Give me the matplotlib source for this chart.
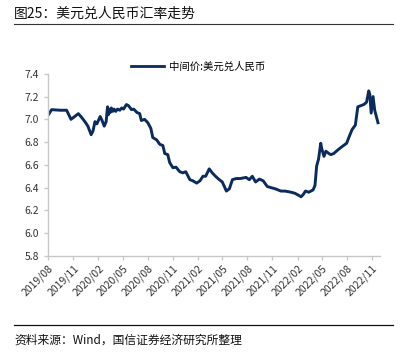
import matplotlib
matplotlib.use("Agg")
import matplotlib.pyplot as plt
import pandas as pd
from matplotlib.lines import Line2D

plt.rcParams['font.family'] = ['Noto Sans CJK SC', 'DejaVu Sans']

dates = [
    "2019-08-02", "2019-08-14", "2019-09-14", "2019-10-08", "2019-10-24", "2019-11-04",
    "2019-11-20", "2019-12-01", "2019-12-14", "2019-12-25", "2020-01-06", "2020-01-13",
    "2020-01-20", "2020-01-27", "2020-02-08", "2020-02-15", "2020-02-23", "2020-03-01",
    "2020-03-06", "2020-03-09", "2020-03-12", "2020-03-16", "2020-03-20", "2020-03-25",
    "2020-03-30", "2020-04-05", "2020-04-12", "2020-04-20", "2020-04-27", "2020-05-04",
    "2020-05-14", "2020-05-22", "2020-06-02", "2020-06-10", "2020-06-22",
    "2020-07-02", "2020-07-08", "2020-07-20", "2020-08-01", "2020-08-12", "2020-08-19",
    "2020-09-02", "2020-09-14", "2020-09-25", "2020-10-02", "2020-10-13", "2020-10-20",
    "2020-11-01", "2020-11-12", "2020-11-26", "2020-12-07", "2020-12-18", "2021-01-02",
    "2021-01-13", "2021-01-27", "2021-02-08", "2021-02-19", "2021-03-01", "2021-03-14",
    "2021-03-25", "2021-04-06", "2021-04-20", "2021-05-01", "2021-05-16", "2021-05-27",
    "2021-06-07", "2021-06-21", "2021-07-06", "2021-07-27", "2021-08-08", "2021-08-19",
    "2021-08-31", "2021-09-14", "2021-09-28", "2021-10-13", "2021-10-27", "2021-11-11",
    "2021-12-02", "2021-12-17", "2022-01-08", "2022-01-23", "2022-02-14", "2022-02-22",
    "2022-03-02", "2022-03-14", "2022-03-30", "2022-04-06", "2022-04-12", "2022-04-19",
    "2022-04-27", "2022-05-01", "2022-05-09", "2022-05-16", "2022-05-27", "2022-06-03",
    "2022-06-14", "2022-06-28", "2022-07-14", "2022-07-31", "2022-08-08", "2022-08-20",
    "2022-09-01", "2022-09-10", "2022-09-21", "2022-10-02", "2022-10-12", "2022-10-20",
    "2022-10-24", "2022-10-29", "2022-11-05", "2022-11-11", "2022-11-23",
]
values = [
    7.04, 7.085, 7.08, 7.08, 7.00, 7.02,
    7.05, 7.02, 6.98, 6.94, 6.865, 6.90,
    6.98, 6.96, 7.025, 6.99, 6.94, 6.98,
    7.11, 7.04, 7.09, 7.06, 7.10, 7.07,
    7.09, 7.07, 7.09, 7.08, 7.10, 7.09,
    7.13, 7.12, 7.085, 7.09, 7.06,
    7.05, 6.99, 7.00, 6.97, 6.92, 6.84,
    6.82, 6.78, 6.77, 6.70, 6.69, 6.62,
    6.575, 6.58, 6.54, 6.53, 6.54, 6.47,
    6.46, 6.44, 6.46, 6.50, 6.50, 6.565,
    6.53, 6.50, 6.47, 6.45, 6.37, 6.39,
    6.47, 6.48, 6.48, 6.49, 6.47, 6.50,
    6.45, 6.475, 6.46, 6.41, 6.40, 6.39,
    6.37, 6.37, 6.36, 6.35, 6.32, 6.34,
    6.37, 6.36, 6.38, 6.42, 6.59, 6.65,
    6.79, 6.74, 6.675, 6.72, 6.70, 6.69,
    6.70, 6.73, 6.76, 6.79, 6.84, 6.91,
    6.95, 7.11, 7.12, 7.13, 7.15, 7.25,
    7.22, 7.055, 7.20, 7.08, 6.97,
]
tick_labels = ["2019/08", "2019/11", "2020/02", "2020/05", "2020/08", "2020/11",
               "2021/02", "2021/05", "2021/08", "2021/11", "2022/02", "2022/05",
               "2022/08", "2022/11"]
y_ticks = [5.8, 6.0, 6.2, 6.4, 6.6, 6.8, 7.0, 7.2, 7.4]
series_name = "中间价:美元兑人民币"
title = "图25：美元兑人民币汇率走势"
source = "资料来源：Wind，国信证券经济研究所整理"

x = pd.to_datetime(dates)
tick_dates = pd.to_datetime([t.replace("/", "-") + "-01" for t in tick_labels])

fig = plt.figure(figsize=(4.04, 3.60), dpi=100)
ax = fig.add_axes([0.119, 0.289, 0.822, 0.506])
color = "#0b2b5c"
ax.plot(x, values, color=color, lw=2.1, solid_joinstyle="round")

ax.set_ylim(5.8, 7.4)
ax.set_yticks(y_ticks)
ax.set_yticklabels([f"{v:.1f}" for v in y_ticks])
ax.set_xlim(pd.Timestamp("2019-08-01"), pd.Timestamp("2022-12-01"))
ax.set_xticks(tick_dates)
ax.set_xticklabels(tick_labels, rotation=45, ha="right", rotation_mode="anchor")

for s in ["top", "right"]:
    ax.spines[s].set_visible(False)
for s in ["left", "bottom"]:
    ax.spines[s].set_color("#c8c8c8")
    ax.spines[s].set_linewidth(1.0)
ax.tick_params(axis="both", colors="#c8c8c8", labelcolor="#333333", labelsize=7.5,
               length=3, width=1.0, direction="out")
ax.tick_params(axis="x", pad=2)

handle = Line2D([0], [0], color=color, lw=2.0)
fig.legend([handle], [series_name], loc="center", bbox_to_anchor=(0.49, 0.815),
           frameon=False, fontsize=7.5, handlelength=3.2, handletextpad=0.5)

fig.text(0.035, 0.962, title, fontsize=10, va="center", ha="left", color="#111111")
fig.add_artist(Line2D([0.035, 0.973], [0.933, 0.933], color="#333333", lw=0.8))
fig.add_artist(Line2D([0.035, 0.973], [0.097, 0.097], color="#111111", lw=0.9))
fig.text(0.035, 0.055, source, fontsize=8.5, va="center", ha="left", color="#111111")

fig.savefig("out.png", dpi=100)
